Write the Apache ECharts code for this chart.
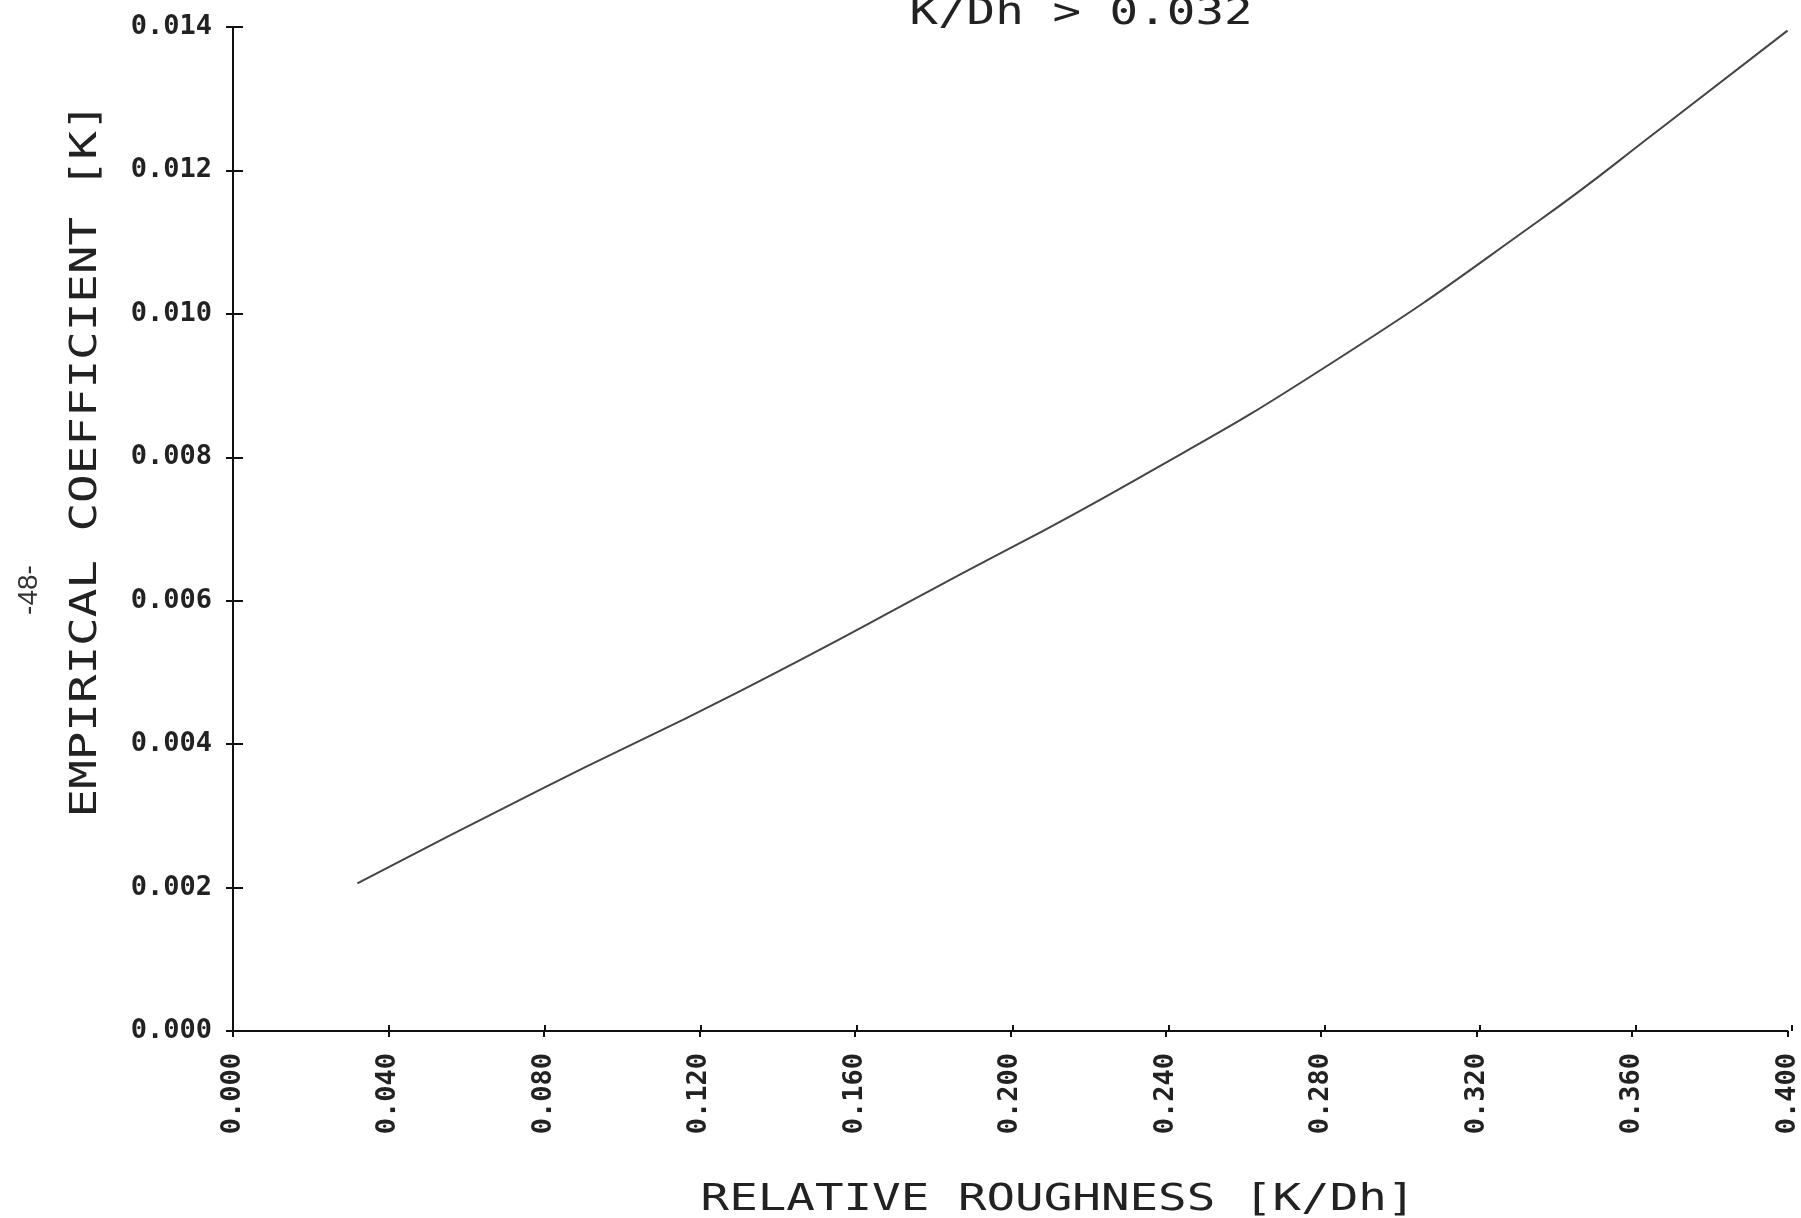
<!DOCTYPE html>
<html>
<head>
<meta charset="utf-8">
<script src="https://cdn.jsdelivr.net/npm/echarts@6/dist/echarts.min.js"></script>
<style>html,body{margin:0;padding:0;background:#fff}#c{width:1801px;height:1218px}</style>
</head>
<body>
<div id="c"></div>
<script>
const roughness = [0.032, 0.0788, 0.1301, 0.1814, 0.2327, 0.2840, 0.3353, 0.3687, 0.400];
const coefficient = [0.00206, 0.00336, 0.00473, 0.00620, 0.00770, 0.00936, 0.01127, 0.01264, 0.01395];
const xTicks = { min: 0, max: 0.4, interval: 0.04 };
const yTicks = { min: 0, max: 0.014, interval: 0.002 };
const titleText = 'K/Dh > 0.032';
const xName = 'RELATIVE ROUGHNESS [K/Dh]';
const yName = 'EMPIRICAL COEFFICIENT [K]';
const pageNo = '-48-';

const chart = echarts.init(document.getElementById('c'));
const G = { left: 233, right: 9, top: 27, bottom: 187 };
const tickFont = { fontFamily: 'DejaVu Sans Mono', fontSize: 27, fontWeight: 'bold', color: '#222' };
const thin = { fontFamily: 'DejaVu Sans Mono', fontSize: 38, fill: '#222' };

chart.setOption({
  animation: false,
  backgroundColor: '#fff',
  grid: [Object.assign({}, G), Object.assign({}, G)],
  xAxis: [
    { gridIndex: 0, type: 'value', min: xTicks.min, max: xTicks.max, interval: xTicks.interval,
      axisLine: { show: true, onZero: false, lineStyle: { color: '#111', width: 2 } },
      axisTick: { show: true, inside: false, length: 6, lineStyle: { color: '#111', width: 2 } },
      axisLabel: Object.assign({ rotate: 90, margin: 22, formatter: v => v.toFixed(3) }, tickFont),
      splitLine: { show: false } },
    { gridIndex: 1, type: 'value', min: xTicks.min, max: xTicks.max, interval: xTicks.interval,
      axisLine: { show: false },
      axisTick: { show: true, inside: true, length: 6, lineStyle: { color: '#111', width: 2 } },
      axisLabel: { show: false }, splitLine: { show: false } }
  ],
  yAxis: [
    { gridIndex: 0, type: 'value', min: yTicks.min, max: yTicks.max, interval: yTicks.interval,
      axisLine: { show: true, onZero: false, lineStyle: { color: '#111', width: 2 } },
      axisTick: { show: true, inside: false, length: 7, lineStyle: { color: '#111', width: 2 } },
      axisLabel: Object.assign({ margin: 21, formatter: v => v.toFixed(3) }, tickFont),
      splitLine: { show: false } },
    { gridIndex: 1, type: 'value', min: yTicks.min, max: yTicks.max, interval: yTicks.interval,
      axisLine: { show: false },
      axisTick: { show: true, inside: true, length: 10, lineStyle: { color: '#111', width: 2 } },
      axisLabel: { show: false }, splitLine: { show: false } }
  ],
  series: [{
    type: 'line', xAxisIndex: 0, yAxisIndex: 0,
    data: roughness.map((x, i) => [x, coefficient[i]]),
    smooth: 0.5, showSymbol: false, symbol: 'none',
    lineStyle: { color: '#444', width: 2 }
  }],
  graphic: [
    { type: 'text', x: 1081, y: 14, scaleX: 1.25,
      style: Object.assign({ text: titleText, align: 'center', verticalAlign: 'middle' }, thin) },
    { type: 'text', x: 1058, y: 1200, scaleX: 1.25,
      style: Object.assign({ text: xName, align: 'center', verticalAlign: 'middle' }, thin) },
    { type: 'text', x: 86, y: 460, rotation: Math.PI / 2, scaleX: 1.25,
      style: Object.assign({ text: yName, align: 'center', verticalAlign: 'middle' }, thin) },
    { type: 'text', x: 29, y: 590, rotation: Math.PI / 2,
      style: { text: pageNo, align: 'center', verticalAlign: 'middle', fontFamily: 'Liberation Sans', fontSize: 28, fill: '#333' } }
  ]
});
</script>
</body>
</html>
